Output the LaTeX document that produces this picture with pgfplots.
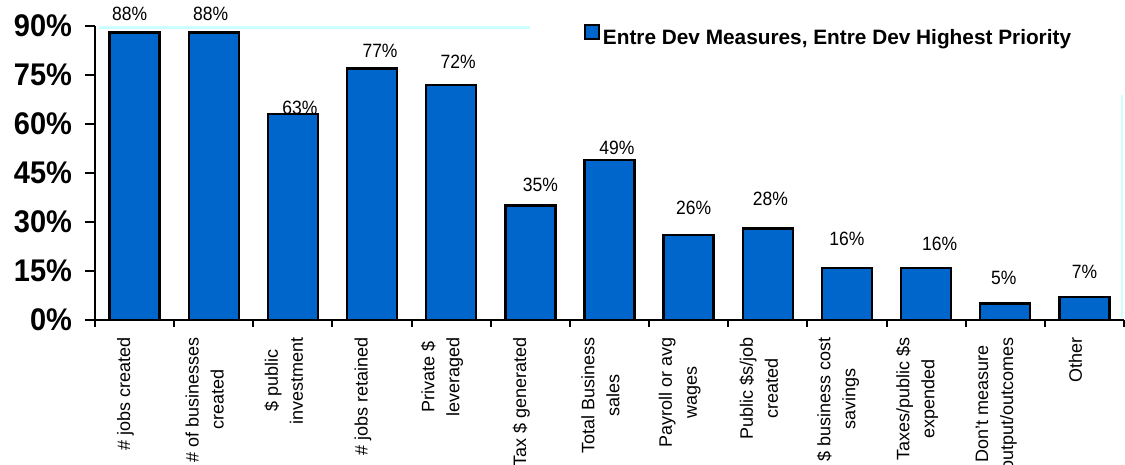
\documentclass[border=0pt]{standalone}
\usepackage{fontspec}
\setmainfont{Liberation Sans}
\usepackage{pgfplots}
\usepackage{pgfplotstable}
\pgfplotsset{compat=1.18}
\definecolor{barblue}{HTML}{0066CC}
\definecolor{paleCyan}{HTML}{CCFFFF}

% value, label offsets (pt)
\pgfplotstableread{
x y dx dy
1 88 -2.5 5.5
2 88 -1.5 5.5
3 63 3.5 0
4 77 4 5
5 72 3.5 7.5
6 35 5 6.5
7 49 3.75 2.5
8 26 2.5 9.5
9 28 1.25 10.5
10 16 0 10
11 16 6.75 8
12 5 -0.75 8.5
13 7 0 8.5
}\measures

\begin{document}
\begin{tikzpicture}
\begin{axis}[
  scale only axis, width=514.5pt, height=147pt,
  xmin=0.5, xmax=13.5, ymin=0, ymax=90,
  axis x line*=bottom, axis y line*=left,
  axis line style={line width=1pt},
  tick align=outside,
  tick style={black, line width=1pt},
  major tick length=5pt, minor tick length=3.5pt,
  xtick=data,
  major x tick style={draw=none},
  minor xtick={0.5,1.5,...,13.5},
  xticklabels={{\# jobs created},{\# of businesses\\created},{\$ public\\investment},{\# jobs retained},{Private \$\\leveraged},{Tax \$ generated},{Total Business\\sales},{Payroll or avg\\wages},{Public \$s/job\\created},{\$ business cost\\savings},{Taxes/public \$s\\expended},{Don't measure\\output/outcomes},{Other}},
  xticklabel style={rotate=90, anchor=east, align=center, yshift=4.5pt,
    font=\fontsize{9}{12.5}\selectfont},
  ytick={0,15,30,45,60,75,90},
  yticklabels={0\%,15\%,30\%,45\%,60\%,75\%,90\%},
  yticklabel style={font=\fontsize{14.5}{16}\selectfont\bfseries, yscale=1.08, xshift=-3pt},
  /pgf/number format/assume math mode=true,
  legend style={at={(rel axis cs:0.4752,0.961)}, anchor=west, draw=none, fill=none,
    inner sep=0pt, font=\fontsize{10.4}{12}\selectfont\bfseries, nodes={inner sep=1.5pt}},
  legend image code/.code={\draw[#1, draw=black, line width=0.8pt] (0pt,0pt) rectangle (7pt,7pt);},
]
\coordinate (o) at (rel axis cs:0,0);
\draw[paleCyan, line width=2.5pt] (axis cs:0.55,90) -- (axis cs:6.0,90);
\draw[paleCyan, line width=1pt] (axis cs:13.48,69) -- (axis cs:13.48,0.6);
\addplot[ybar, bar width=25pt, fill=barblue, draw=black, line width=1.2pt,
  visualization depends on={\thisrow{dx}\as\dx},
  visualization depends on={\thisrow{dy}\as\dy},
  nodes near coords={\pgfmathprintnumber{\pgfplotspointmeta}\%},
  every node near coord/.append style={anchor=base, inner sep=0pt, black,
    font=\fontsize{8.75}{10}\selectfont, yscale=1.1, xshift=\dx pt, yshift=\dy pt},
] table[x=x, y=y] {\measures};
\addlegendentry{Entre Dev Measures, Entre Dev Highest Priority}
\end{axis}
\pgfresetboundingbox
\path[use as bounding box] ([shift={(-47.5pt,-72.5pt)}]o) rectangle ([shift={(515pt,160pt)}]o);
\end{tikzpicture}
\end{document}
